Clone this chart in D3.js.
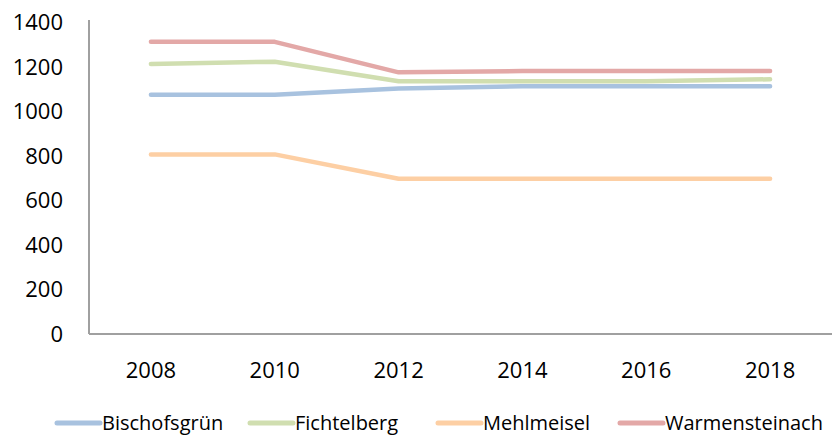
<!DOCTYPE html>
<html>
<head>
<meta charset="utf-8">
<script src="https://cdn.jsdelivr.net/npm/d3@7"></script>
<style>
  body { margin: 0; background: #fff; }
  text { font-family: "Open Sans", sans-serif; fill: #000; }
</style>
</head>
<body>
<svg id="chart" width="834" height="436"></svg>
<script>
const years = ["2008", "2010", "2012", "2014", "2016", "2018"];
const yTicks = [0, 200, 400, 600, 800, 1000, 1200, 1400];

const bischofsgruen = [1074, 1074, 1102, 1112, 1112, 1112];
const fichtelberg = [1212, 1222, 1134, 1134, 1134, 1143];
const mehlmeisel = [806, 806, 697, 697, 697, 697];
const warmensteinach = [1311, 1311, 1174, 1180, 1180, 1180];

const seriesNames = ["Bischofsgrün", "Fichtelberg", "Mehlmeisel", "Warmensteinach"];
const seriesColors = ["#a8c2df", "#d0deb0", "#fdcfa4", "#e3a8a7"];
const seriesValues = [bischofsgruen, fichtelberg, mehlmeisel, warmensteinach];

const svg = d3.select("#chart");

const plotLeft = 89, plotRight = 832, plotTop = 22, plotBottom = 334;

const xScale = d3.scaleBand()
    .domain(years)
    .range([plotLeft, plotRight]);

const yScale = d3.scaleLinear()
    .domain([0, 1400])
    .range([plotBottom, plotTop]);

// axes lines
svg.append("line")
    .attr("x1", plotLeft).attr("x2", plotLeft)
    .attr("y1", plotTop - 2).attr("y2", plotBottom)
    .attr("stroke", "#a0a0a0").attr("stroke-width", 2);

svg.append("line")
    .attr("x1", plotLeft).attr("x2", plotRight)
    .attr("y1", plotBottom).attr("y2", plotBottom)
    .attr("stroke", "#a0a0a0").attr("stroke-width", 2);

// y tick labels
svg.selectAll(".ylab")
    .data(yTicks)
    .join("text")
    .attr("class", "ylab")
    .attr("x", 63)
    .attr("y", d => yScale(d) + 8)
    .attr("text-anchor", "end")
    .attr("font-size", 22)
    .text(d => d);

// x tick labels
svg.selectAll(".xlab")
    .data(years)
    .join("text")
    .attr("class", "xlab")
    .attr("x", d => xScale(d) + xScale.bandwidth() / 2)
    .attr("y", 378)
    .attr("text-anchor", "middle")
    .attr("font-size", 22)
    .text(d => d);

const line = d3.line()
    .x((d, i) => xScale(years[i]) + xScale.bandwidth() / 2)
    .y(d => yScale(d));

svg.selectAll(".series")
    .data(seriesValues)
    .join("path")
    .attr("class", "series")
    .attr("d", d => line(d))
    .attr("fill", "none")
    .attr("stroke", (d, i) => seriesColors[i])
    .attr("stroke-width", 4.5)
    .attr("stroke-linecap", "round")
    .attr("stroke-linejoin", "round");

// legend
const legendX = [57, 250, 438, 620];
const legendItems = svg.selectAll(".legend")
    .data(seriesNames)
    .join("g")
    .attr("class", "legend")
    .attr("transform", (d, i) => `translate(${legendX[i]}, 423)`);

legendItems.append("line")
    .attr("x1", 0).attr("x2", 43)
    .attr("y1", 0).attr("y2", 0)
    .attr("stroke", (d, i) => seriesColors[i])
    .attr("stroke-width", 5)
    .attr("stroke-linecap", "round");

legendItems.append("text")
    .attr("x", 45)
    .attr("y", 7)
    .attr("font-size", 20)
    .text(d => d);
</script>
</body>
</html>
